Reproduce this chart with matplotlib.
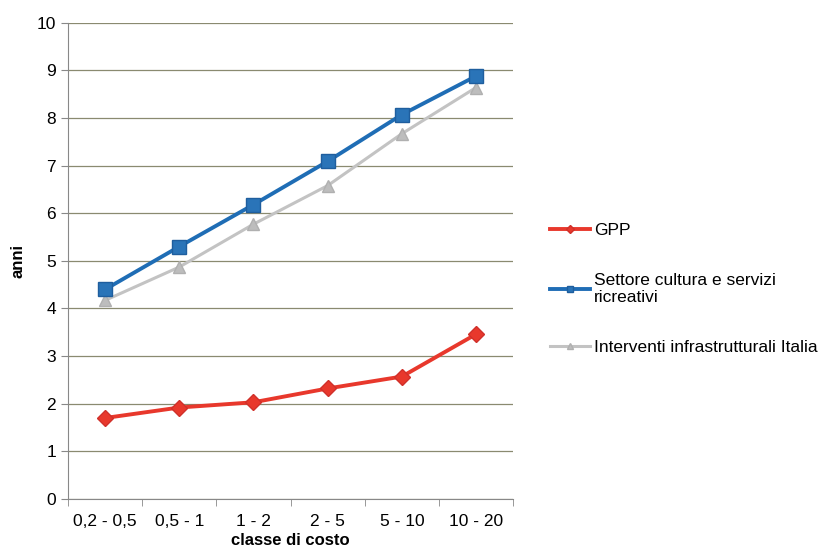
import matplotlib
matplotlib.use("Agg")
import matplotlib.pyplot as plt
import numpy as np

plt.rcParams['font.family'] = ['Liberation Sans', 'DejaVu Sans']

categories = ["0,2 - 0,5", "0,5 - 1", "1 - 2", "2 - 5", "5 - 10", "10 - 20"]
gpp = [1.70, 1.92, 2.03, 2.32, 2.57, 3.46]
cultura = [4.40, 5.30, 6.18, 7.09, 8.07, 8.88]
infra = [4.17, 4.87, 5.77, 6.58, 7.67, 8.64]

fig = plt.figure(figsize=(8.29, 5.55), dpi=100)
ax = fig.add_axes([0.082, 0.101, 0.537, 0.858])

x = np.arange(len(categories))
ax.plot(x, gpp, color="#e8382c", lw=2.8, marker="D", ms=8, mfc="#e8382c", mec="#d0302a", label="GPP", zorder=3)
ax.plot(x, cultura, color="#1f6db5", lw=2.8, marker="s", ms=10, mfc="#2a74b8", mec="#1f5e9e",
        label="Settore cultura e servizi\nricreativi", zorder=4)
ax.plot(x, infra, color="#c3c3c3", lw=2.2, marker="^", ms=9, mfc="#bdbdbd", mec="#b0b0b0",
        label="Interventi infrastrutturali Italia", zorder=3)

ax.set_xlim(-0.5, len(categories) - 0.5)
ax.set_ylim(0, 10)
ax.set_yticks(range(0, 11))
ax.set_xticks(x)
ax.set_xticklabels(categories)
ax.set_xticks(np.arange(-0.5, len(categories)), minor=True)
ax.tick_params(axis="x", which="major", length=0, labelsize=12.5, pad=11)
ax.tick_params(axis="x", which="minor", length=5, color="#888888")
ax.tick_params(axis="y", length=5, labelsize=12.5, color="#888888")

ax.grid(axis="y", color="#8a8a70", lw=0.9)
ax.set_axisbelow(True)
for s in ["top", "right"]:
    ax.spines[s].set_visible(False)
ax.spines["left"].set_color("#888888")
ax.spines["bottom"].set_color("#888888")

ax.set_xlabel("classe di costo", fontsize=12, fontweight="bold", labelpad=3)
ax.set_ylabel("anni", fontsize=12, fontweight="bold", labelpad=8)

leg = fig.legend(loc="upper left", bbox_to_anchor=(0.645, 0.627), frameon=False, fontsize=12.5,
                 handlelength=2.3, labelspacing=2.0, markerscale=0.45, handletextpad=0.2)

fig.savefig("out.png", dpi=100)
